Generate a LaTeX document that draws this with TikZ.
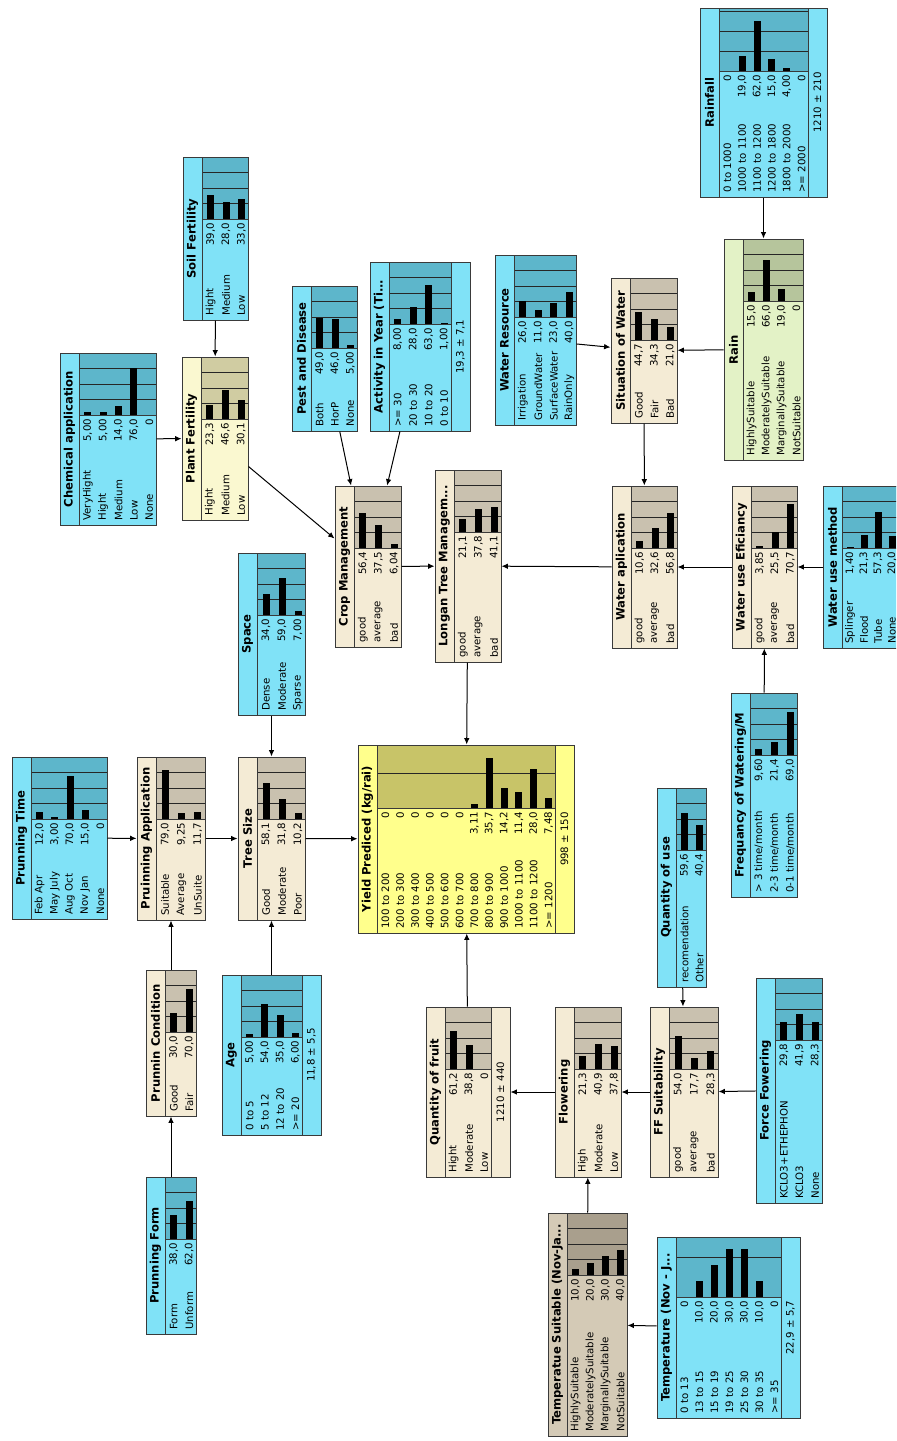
\documentclass[tikz,border=0pt]{standalone}
\usepackage{fontspec}
\setmainfont{DejaVu Sans}
\usetikzlibrary{arrows.meta,fit}
\definecolor{cytxt}{HTML}{80E2F7}
\definecolor{cybar}{HTML}{5DB6CB}
\definecolor{tntxt}{HTML}{F4EBD5}
\definecolor{tnbar}{HTML}{C9C1AF}
\definecolor{gntxt}{HTML}{E3F2C6}
\definecolor{gnbar}{HTML}{B6C59C}
\definecolor{pftxt}{HTML}{FAF8D0}
\definecolor{pfbar}{HTML}{D0CCA2}
\definecolor{yltxt}{HTML}{FFFF8C}
\definecolor{ylbar}{HTML}{C8C468}
\definecolor{tstxt}{HTML}{D4CAB6}
\definecolor{tsbar}{HTML}{A99F8D}
\definecolor{bnline}{HTML}{3A3A3A}

\pgfkeys{/bn/.cd, base/.store in=\bnbase, scale/.store in=\bnscale, mean/.store in=\bnmean}

% a belief value as the network prints it
\newcommand{\bnfmt}[1]{%
  \pgfmathsetmacro\bnv{#1}%
  \ifdim\bnv pt=0pt 0%
  \else\ifdim\bnv pt<10pt
    \pgfmathprintnumber[fixed,fixed zerofill,precision=2,use comma,assume math mode=true]{\bnv}%
  \else
    \pgfmathprintnumber[fixed,fixed zerofill,precision=1,use comma,assume math mode=true]{\bnv}%
  \fi\fi}

% one network node: [options]{name}{colour}{title}{x0}{y0}{x1}{y1}{states}
\newcommand{\bnnode}[9][]{%
  \def\bnbase{}\def\bnscale{}\def\bnmean{}%
  \pgfkeys{/bn/.cd,#1}%
  \ifx\bnbase\empty\pgfmathsetmacro\bnbase{#6+62}\fi
  \ifx\bnscale\empty\pgfmathsetmacro\bnscale{\bnbase-#6}\fi
  \ifx\bnmean\empty\def\bnright{#7}\else\pgfmathsetmacro\bnright{#7-19}\fi
  \foreach \lab/\val [count=\k] in {#9} {\xdef\bnn{\k}}%
  \pgfmathsetmacro\bnpitch{(\bnright-#5-19)/\bnn}%
  \fill[#3txt] (#5,#6) rectangle (#7,#8);
  \fill[#3bar] (#5+19,#6) rectangle (\bnright,\bnbase);
  \foreach \g in {1,2,3,4} {
    \pgfmathsetmacro\gy{\bnbase-\g*\bnscale/4}
    \pgfmathtruncatemacro\gok{\gy>#6+1.5}
    \ifnum\gok=1 \draw[bngrid] (#5+19,\gy) -- (\bnright,\gy);\fi
  }
  \foreach \lab/\val [count=\k] in {#9} {
    \pgfmathsetmacro\cx{#5+20+\bnpitch*(\k-0.5)}
    \ifdim\val pt>0pt \fill (\cx-3.5,\bnbase) rectangle (\cx+3.5,\bnbase-\val*\bnscale/100);\fi
    \node[bnval] at (\cx,\bnbase+3.5) {\bnfmt{\val}};
    \node[bnlab] at (\cx,#8-4) {\lab};
  }
  \draw[bnsep] (#5+19,#6) -- (#5+19,#8);
  \draw[bnsep] (#5+19,\bnbase) -- (\bnright,\bnbase);
  \ifx\bnmean\empty\else
    \draw[bnsep] (\bnright,#6) -- (\bnright,#8);
    \node[bnmean] at (\bnright+9.5,{(#6+#8)/2}) {\bnmean};
  \fi
  \node[bntitle] at (#5+9.5,{(#6+#8)/2}) {#4};
  \node[bnframe, fit={(#5,#6) (#7,#8)}] (#2) {};
}

\begin{document}
\begin{tikzpicture}[
  x=0.5pt, y=-0.5pt,
  font=\fontsize{5.1}{6}\selectfont,
  bnframe/.style={draw=bnline, line width=0.5pt, inner sep=0pt},
  bnsep/.style={draw=bnline, line width=0.5pt},
  bngrid/.style={draw=black!85, line width=0.45pt},
  bnlab/.style={rotate=90, anchor=west, inner sep=0pt},
  bnval/.style={rotate=90, anchor=east, inner sep=0pt},
  bnmean/.style={rotate=90, inner sep=0pt},
  bntitle/.style={rotate=90, inner sep=0pt, font=\fontsize{5.8}{6}\selectfont\bfseries},
  arr/.style={-{Latex[length=3.2pt,width=2.8pt]}, draw=black, line width=0.5pt},
]
\useasboundingbox (0,0) rectangle (896,1441);
\clip (0,0) rectangle (896,1441);
\fill[white] (0,0) rectangle (896,1441);

% Water: rainfall and sources decide how well the water is applied.
\bnnode[base=71, scale=80, mean={1210 ± 210}]{rainfall}{cy}{Rainfall}{700}{8}{827}{197}
  {0 to 1000/0, 1000 to 1100/19.0, 1100 to 1200/62.0, 1200 to 1800/15.0, 1800 to 2000/4.00, >= 2000/0}
\bnnode{rain}{gn}{Rain}{724}{239}{803}{460}
  {HighlySuitable/15.0, ModeratelySuitable/66.0, MarginallySuitable/19.0, NotSuitable/0}
\bnnode{wres}{cy}{Water Resource}{495}{255}{576}{425}
  {Irrigation/26.0, GroundWater/11.0, SurfaceWater/23.0, RainOnly/40.0}
\bnnode{sow}{tn}{Situation of Water}{611}{278}{677}{423}
  {Good/44.7, Fair/34.3, Bad/21.0}
\bnnode{wapp}{tn}{Water aplication}{612}{486}{677}{648}
  {good/10.6, average/32.6, bad/56.8}
\bnnode{wue}{tn}{Water use Eficiancy}{732}{486}{797}{648}
  {good/3.85, average/25.5, bad/70.7}
\bnnode{wum}{cy}{Water use method}{823}{486}{898}{648}
  {Splinger/1.40, Flood/21.3, Tube/57.3, None/20.0}
\bnnode{freq}{cy}{Frequancy of Watering/M}{731}{693}{797}{897}
  {{> 3 time/month}/9.60, {2-3 time/month}/21.4, {0-1 time/month}/69.0}

% Crop care: fertility, pests and activity.
\bnnode{soil}{cy}{Soil Fertility}{183}{157}{248}{320}
  {Hight/39.0, Medium/28.0, Low/33.0}
\bnnode{chem}{cy}{Chemical application}{60}{353}{156}{525}
  {VeryHight/5.00, Hight/5.00, Medium/14.0, Low/76.0, None/0}
\bnnode{plant}{pf}{Plant Fertility}{182}{357}{248}{520}
  {Hight/23.3, Medium/46.6, Low/30.1}
\bnnode{pest}{cy}{Pest and Disease}{292}{286}{357}{431}
  {Both/49.0, HorP/46.0, None/5.00}
\bnnode[mean={19,3 ± 7,1}]{act}{cy}{Activity in Year (Ti...}{370}{262}{470}{431}
  {>= 30/8.00, 20 to 30/28.0, 10 to 20/63.0, 0 to 10/1.00}
\bnnode{crop}{tn}{Crop Management}{335}{486}{401}{647}
  {good/56.4, average/37.5, bad/6.04}
\bnnode{ltm}{tn}{Longan Tree Managem...}{435}{470}{501}{662}
  {good/21.1, average/37.8, bad/41.1}

% Tree: pruning, spacing and age.
\bnnode{space}{cy}{Space}{238}{553}{305}{715}
  {Dense/34.0, Moderate/59.0, Sparse/7.00}
\bnnode{ptime}{cy}{Prunning Time}{12}{757}{107}{919}
  {Feb Apr/12.0, May July/3.00, Aug Oct/70.0, Nov Jan/15.0, None/0}
\bnnode{papp}{tn}{Pruinning Application}{137}{757}{205}{920}
  {Suitable/79.0, Average/9.25, UnSuite/11.7}
\bnnode{tsize}{tn}{Tree Size}{238}{757}{305}{920}
  {Good/58.1, Moderate/31.8, Poor/10.2}
\bnnode{pcond}{tn}{Prunnin Condition}{146}{970}{196}{1116}
  {Good/30.0, Fair/70.0}
\bnnode{pform}{cy}{Prunning Form}{146}{1177}{196}{1334}
  {Form/38.0, Unform/62.0}
\bnnode[mean={11,8 ± 5,5}]{age}{cy}{Age}{222}{975}{321}{1135}
  {0 to 5/5.00, 5 to 12/54.0, 12 to 20/35.0, >= 20/6.00}

% The predicted yield.
\bnnode[base=808, scale=140, mean={998 ± 150}]{yield}{yl}{Yield Prediced (kg/rai)}{358}{745}{574}{933}
  {100 to 200/0, 200 to 300/0, 300 to 400/0, 400 to 500/0, 500 to 600/0, 600 to 700/0,
   700 to 800/3.11, 800 to 900/35.7, 900 to 1000/14.2, 1000 to 1100/11.4, 1100 to 1200/28.0, >= 1200/7.48}

% Flowering and fruit.
\bnnode{qou}{cy}{Quantity of use}{657}{788}{706}{987}
  {recomendation/59.6, Other/40.4}
\bnnode[mean={1210 ± 440}]{qof}{tn}{Quantity of fruit}{426}{1007}{510}{1177}
  {Hight/61.2, Moderate/38.8, Low/0}
\bnnode{flow}{tn}{Flowering}{555}{1007}{621}{1177}
  {High/21.3, Moderate/40.9, Low/37.8}
\bnnode{ffs}{tn}{FF Suitability}{650}{1007}{718}{1177}
  {good/54.0, average/17.7, bad/28.3}
\bnnode{force}{cy}{Force Fowering}{756}{978}{822}{1203}
  {KCLO3+ETHEPHON/29.8, KCLO3/41.9, None/28.3}
\bnnode{tsuit}{ts}{Temperatue Suitable (Nov-Ja...}{548}{1213}{627}{1436}
  {HighlySuitable/10.0, ModeratelySuitable/20.0, MarginallySuitable/30.0, NotSuitable/40.0}
\bnnode[base=1297, scale=160, mean={22,9 ± 5,7}]{temp}{cy}{Temperature (Nov - J...}{657}{1237}{800}{1418}
  {0 to 13/0, 13 to 15/10.0, 15 to 19/20.0, 19 to 25/30.0, 25 to 30/30.0, 30 to 35/10.0, >= 35/0}

% Links, parent to child.
\foreach \a/\b in {rainfall/rain, rain/sow, wres/sow, sow/wapp, wue/wapp, wum/wue, freq/wue,
                   wapp/ltm, crop/ltm, pest/crop, act/crop, plant/crop, soil/plant, chem/plant,
                   ltm/yield, tsize/yield, space/tsize, papp/tsize, ptime/papp, pcond/papp,
                   pform/pcond, age/tsize, qof/yield, flow/qof, ffs/flow, force/ffs, qou/ffs,
                   tsuit/flow, temp/tsuit} {
  \draw[arr] (\a) -- (\b);
}
\end{tikzpicture}
\end{document}
